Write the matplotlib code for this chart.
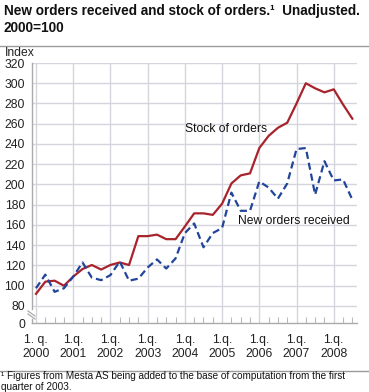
import matplotlib
matplotlib.use("Agg")
import matplotlib.pyplot as plt
from matplotlib.lines import Line2D
import numpy as np

plt.rcParams['font.family'] = ['Liberation Sans', 'DejaVu Sans']

# ---- data ----
years = [2000, 2001, 2002, 2003, 2004, 2005, 2006, 2007, 2008]
xlabels = ["1. q.\n2000"] + ["1.q.\n%d" % y for y in years[1:]]
stock_of_orders = [92, 104, 105, 100, 109, 116.5, 120.5, 116, 120.5, 123, 120.5,
                   149, 149, 150.5, 146, 146, 158.5, 171.5, 171.5, 170, 181,
                   201, 209, 211, 236, 248, 256, 261, 280, 300, 295, 291, 294, 279, 265]
new_orders = [97.5, 111, 94, 97.5, 109, 123, 108, 105.5, 110.5, 124, 105,
              107, 118, 126, 117, 127, 152, 161.5, 138, 152, 157,
              192, 174, 174, 203, 197, 186, 201, 235, 236, 190, 223, 204, 205, 185]
ytick_vals = [80, 100, 120, 140, 160, 180, 200, 220, 240, 260, 280, 300, 320]
zero_pos = 63.2  # where the "0" of the broken axis sits

W, H = 369, 392
fig = plt.figure(figsize=(W / 100, H / 100), dpi=100)
fig.patch.set_facecolor('white')

def fx(px):
    return px / W

def fy(py):
    return 1 - py / H

ax = fig.add_axes([fx(32), fy(323), fx(357) - fx(32), fy(63) - fy(323)])

q = np.arange(len(stock_of_orders))
red = '#a8232b'
blue = '#22449a'
grid = '#d5d5dd'

ax.plot(q, stock_of_orders, color=red, lw=1.6, zorder=3)
ax.plot(q, new_orders, color=blue, lw=1.6, ls=(0, (3.2, 1.8)), zorder=3)

ax.set_xlim(-0.43, 34.5)
ax.set_ylim(zero_pos, 320)

ax.set_yticks([zero_pos] + ytick_vals)
ax.set_yticklabels(["0"] + [str(v) for v in ytick_vals])
for v in ytick_vals:
    ax.axhline(v, color=grid, lw=1.0, zorder=1)

major = [4 * i for i in range(len(years))]
ax.set_xticks(major)
ax.set_xticklabels(xlabels)
ax.set_xticks(np.arange(0, 35), minor=True)
for m in major:
    ax.axvline(m, color=grid, lw=1.0, zorder=1)

ax.tick_params(axis='y', length=0, pad=5, labelsize=8.7, labelcolor='#222222')
ax.tick_params(axis='x', which='major', length=0, pad=8, labelsize=8.7, labelcolor='#222222')
ax.tick_params(axis='x', which='minor', direction='in', length=4, color='#bbbbbb', width=0.8)
for lab in ax.get_xticklabels():
    lab.set_linespacing(1.2)

for s in ['top', 'right', 'left']:
    ax.spines[s].set_visible(False)
ax.spines['bottom'].set_color('#aaaaaa')
ax.spines['bottom'].set_linewidth(1.0)

# left axis line with break
fig.add_artist(Line2D([fx(32), fx(32)], [fy(63), fy(309)], color='#aaaaaa', lw=1.0))
fig.add_artist(Line2D([fx(32), fx(32)], [fy(319), fy(323)], color='#aaaaaa', lw=1.0))
fig.add_artist(Line2D([fx(28), fx(35)], [fy(311), fy(316)], color='#aaaaaa', lw=0.9))
fig.add_artist(Line2D([fx(28), fx(35)], [fy(314), fy(319)], color='#aaaaaa', lw=0.9))

# series labels
fig.text(fx(185), fy(129), "Stock of orders", fontsize=8.7, color='#111111', va='center', ha='left')
fig.text(fx(238), fy(221), "New orders received", fontsize=8.7, color='#111111', va='center', ha='left')

# title
fig.text(fx(4), fy(4), "New orders received and stock of orders.\u00b9  Unadjusted.\n2000=100",
         fontsize=9.8, fontweight='bold', va='top', ha='left', linespacing=1.3, color='#111111')
fig.add_artist(Line2D([0, 1], [fy(46), fy(46)], color='#9a9a9a', lw=1.0))
fig.text(fx(5), fy(53), "Index", fontsize=8.7, va='center', ha='left', color='#222222')

# footnote
fig.add_artist(Line2D([0, 1], [fy(371), fy(371)], color='#9a9a9a', lw=1.0))
fig.text(fx(1), fy(391.5), "\u00b9 Figures from Mesta AS being added to the base of computation from the first\nquarter of 2003.",
         fontsize=7.2, va='bottom', ha='left', linespacing=1.1, color='#111111')

fig.savefig("out.png", dpi=100, facecolor='white')
